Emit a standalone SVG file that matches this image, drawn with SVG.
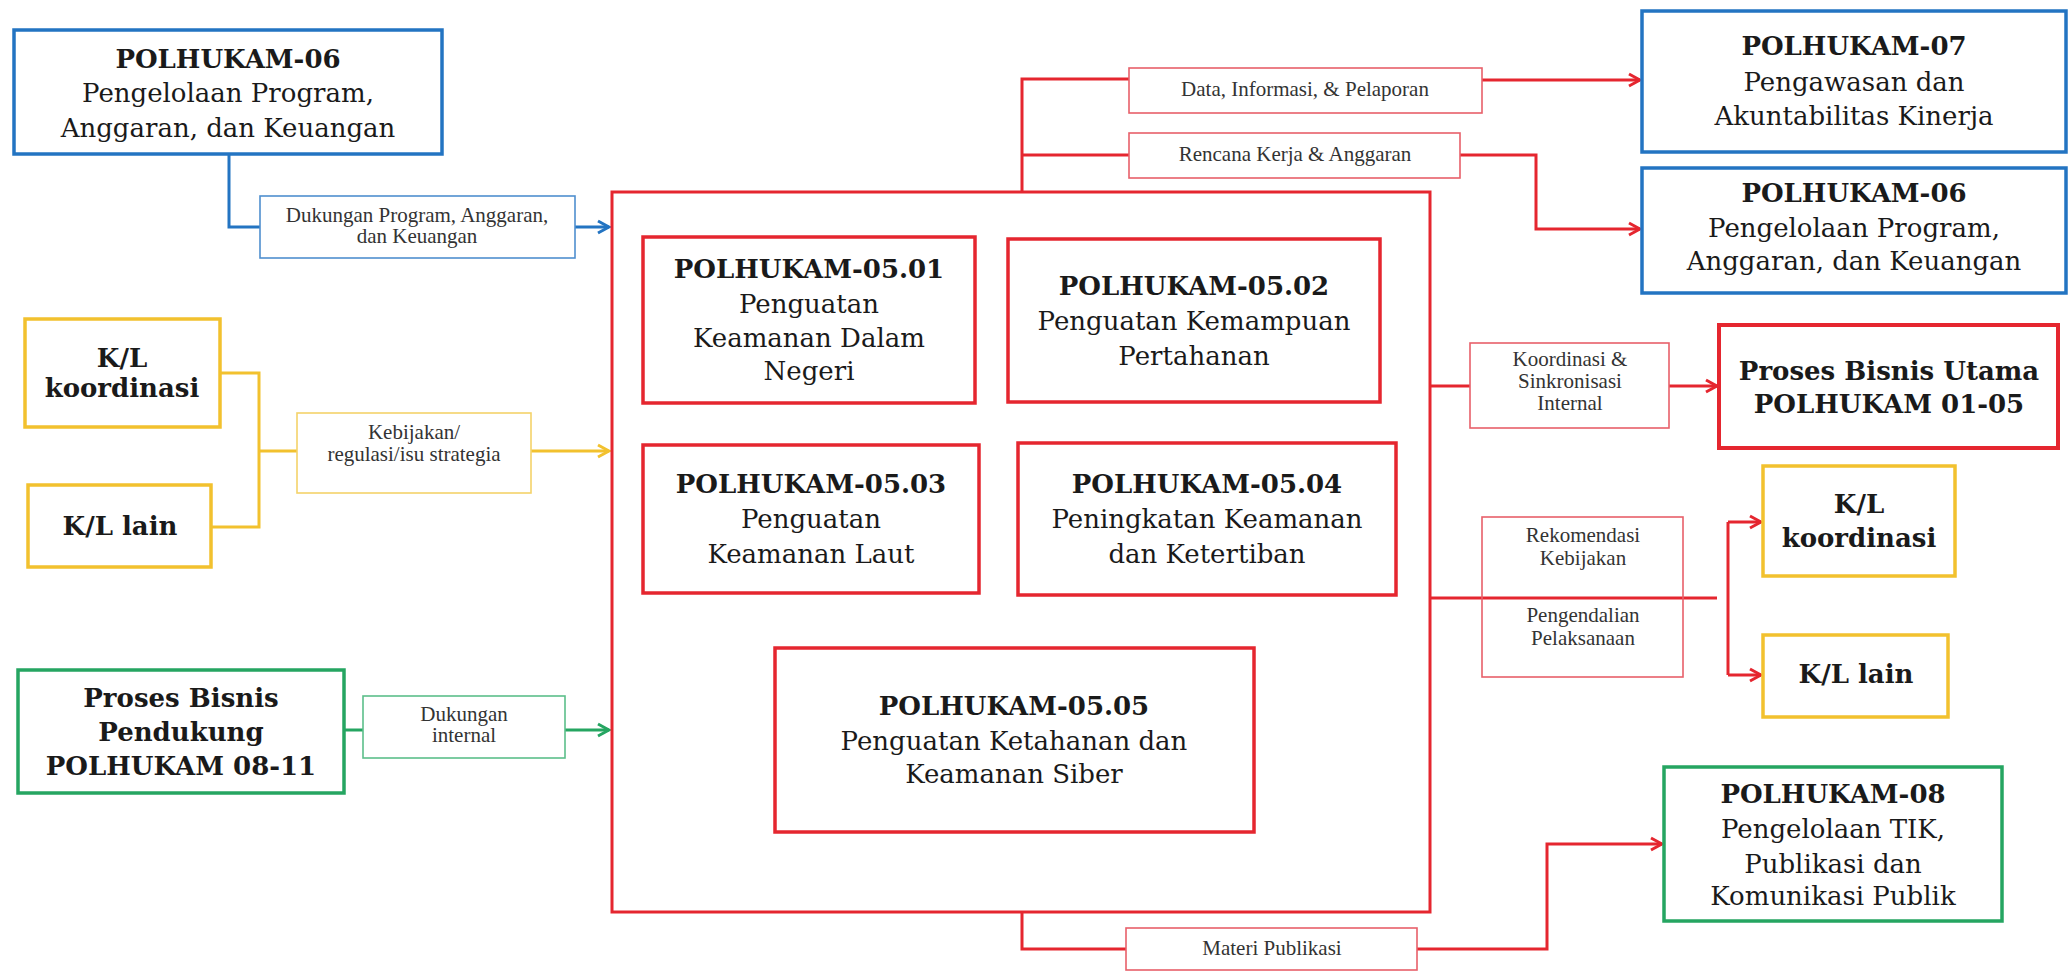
<svg xmlns="http://www.w3.org/2000/svg" width="2071" height="972" viewBox="0 0 2071 972">
<style>
.bg{fill:#ffffff}
.n{fill:none;stroke-width:3.5}
.blue{stroke:#2374c2}
.red{stroke:#e5262f}
.yel{stroke:#f2c12e}
.grn{stroke:#25a561}
.lb{fill:none;stroke-width:1.6}
.lblue{stroke:#4f8fcf}
.lred{stroke:#e8606a}
.lyel{stroke:#f4d36a}
.lgrn{stroke:#5cbf8a}
.t{font-family:"DejaVu Serif",serif;font-size:26px;fill:#1a1a1a;text-anchor:middle}
.b{font-weight:bold}
.l{font-family:"Liberation Serif",serif;font-size:21px;fill:#333;text-anchor:middle}
.c{fill:none;stroke-width:3}
</style>
<defs>
<marker id="ar" markerUnits="userSpaceOnUse" markerWidth="16" markerHeight="16" refX="13" refY="8" orient="auto"><path d="M2,2 L13,8 L2,14" fill="none" stroke="#e5262f" stroke-width="3"/></marker>
<marker id="ab" markerUnits="userSpaceOnUse" markerWidth="16" markerHeight="16" refX="13" refY="8" orient="auto"><path d="M2,2 L13,8 L2,14" fill="none" stroke="#2374c2" stroke-width="3"/></marker>
<marker id="ay" markerUnits="userSpaceOnUse" markerWidth="16" markerHeight="16" refX="13" refY="8" orient="auto"><path d="M2,2 L13,8 L2,14" fill="none" stroke="#f2c12e" stroke-width="3"/></marker>
<marker id="ag" markerUnits="userSpaceOnUse" markerWidth="16" markerHeight="16" refX="13" refY="8" orient="auto"><path d="M2,2 L13,8 L2,14" fill="none" stroke="#25a561" stroke-width="3"/></marker>
</defs>
<rect class="bg" x="0" y="0" width="2071" height="972"/>

<g id="connectors">
<polyline class="c blue" points="229,155 229,227 260,227"/>
<line class="c blue" x1="575" y1="227" x2="609" y2="227" marker-end="url(#ab)"/>
<polyline class="c yel" points="220,373 259,373 259,527 211,527"/>
<line class="c yel" x1="259" y1="451" x2="297" y2="451"/>
<line class="c yel" x1="531" y1="451" x2="609" y2="451" stroke-width="4" marker-end="url(#ay)"/>
<line class="c grn" x1="344" y1="730" x2="363" y2="730"/>
<line class="c grn" x1="565" y1="730" x2="609" y2="730" marker-end="url(#ag)"/>
<polyline class="c red" points="1022,192 1022,79 1129,79"/>
<line class="c red" x1="1022" y1="155" x2="1129" y2="155"/>
<line class="c red" x1="1482" y1="80" x2="1640" y2="80" marker-end="url(#ar)"/>
<polyline class="c red" points="1460,155 1536,155 1536,229 1640,229" marker-end="url(#ar)"/>
<line class="c red" x1="1431" y1="386" x2="1470" y2="386"/>
<line class="c red" x1="1669" y1="386" x2="1717" y2="386" marker-end="url(#ar)"/>
<line class="c red" x1="1431" y1="598" x2="1717" y2="598"/>
<line class="c red" x1="1728" y1="522" x2="1728" y2="675"/>
<line class="c red" x1="1728" y1="522" x2="1761" y2="522" marker-end="url(#ar)"/>
<line class="c red" x1="1728" y1="675" x2="1761" y2="675" marker-end="url(#ar)"/>
<polyline class="c red" points="1022,912 1022,949 1126,949"/>
<polyline class="c red" points="1417,949 1547,949 1547,844 1662,844" marker-end="url(#ar)"/>
</g>

<g id="labels">
<g id="lbl-dukungan-program">
<rect class="lb lblue" x="260" y="196" width="315" height="62"/>
<text class="l" x="417" y="222">Dukungan Program, Anggaran,</text>
<text class="l" x="417" y="243">dan Keuangan</text>
</g>
<g id="lbl-kebijakan">
<rect class="lb lyel" x="297" y="413" width="234" height="80"/>
<text class="l" x="414" y="439">Kebijakan/</text>
<text class="l" x="414" y="461">regulasi/isu strategia</text>
</g>
<g id="lbl-dukungan-internal">
<rect class="lb lgrn" x="363" y="696" width="202" height="62"/>
<text class="l" x="464" y="721">Dukungan</text>
<text class="l" x="464" y="742">internal</text>
</g>
<g id="lbl-data">
<rect class="lb lred" x="1129" y="68" width="353" height="45"/>
<text class="l" x="1305" y="96">Data, Informasi, &amp; Pelaporan</text>
</g>
<g id="lbl-rencana">
<rect class="lb lred" x="1129" y="133" width="331" height="45"/>
<text class="l" x="1295" y="161">Rencana Kerja &amp; Anggaran</text>
</g>
<g id="lbl-koordinasi">
<rect class="lb lred" x="1470" y="343" width="199" height="85"/>
<text class="l" x="1570" y="366">Koordinasi &amp;</text>
<text class="l" x="1570" y="388">Sinkronisasi</text>
<text class="l" x="1570" y="410">Internal</text>
</g>
<g id="lbl-rekomendasi">
<rect class="lb lred" x="1482" y="517" width="201" height="160"/>
<text class="l" x="1583" y="542">Rekomendasi</text>
<text class="l" x="1583" y="565">Kebijakan</text>
<text class="l" x="1583" y="622">Pengendalian</text>
<text class="l" x="1583" y="645">Pelaksanaan</text>
</g>
<g id="lbl-materi">
<rect class="lb lred" x="1126" y="928" width="291" height="42"/>
<text class="l" x="1272" y="955">Materi Publikasi</text>
</g>
</g>

<g id="polhukam-06-left">
<rect class="n blue" x="14" y="30" width="428" height="124"/>
<text class="t b" x="228" y="68">POLHUKAM-06</text>
<text class="t" x="228" y="102">Pengelolaan Program,</text>
<text class="t" x="228" y="137">Anggaran, dan Keuangan</text>
</g>
<g id="kl-koordinasi-left">
<rect class="n yel" x="25" y="319" width="195" height="108"/>
<text class="t b" x="122" y="367">K/L</text>
<text class="t b" x="122" y="397">koordinasi</text>
</g>
<g id="kl-lain-left">
<rect class="n yel" x="28" y="485" width="183" height="82"/>
<text class="t b" x="120" y="535">K/L lain</text>
</g>
<g id="proses-pendukung">
<rect class="n grn" x="18" y="670" width="326" height="123"/>
<text class="t b" x="181" y="707">Proses Bisnis</text>
<text class="t b" x="181" y="741">Pendukung</text>
<text class="t b" x="181" y="775">POLHUKAM 08-11</text>
</g>

<g id="polhukam-05">
<rect fill="none" stroke="#e5262f" stroke-width="3" x="612" y="192" width="818" height="720"/>
</g>
<g id="polhukam-05-01">
<rect class="n red" x="643" y="237" width="332" height="166"/>
<text class="t b" x="809" y="278">POLHUKAM-05.01</text>
<text class="t" x="809" y="313">Penguatan</text>
<text class="t" x="809" y="347">Keamanan Dalam</text>
<text class="t" x="809" y="380">Negeri</text>
</g>
<g id="polhukam-05-02">
<rect class="n red" x="1008" y="239" width="372" height="163"/>
<text class="t b" x="1194" y="295">POLHUKAM-05.02</text>
<text class="t" x="1194" y="330">Penguatan Kemampuan</text>
<text class="t" x="1194" y="365">Pertahanan</text>
</g>
<g id="polhukam-05-03">
<rect class="n red" x="643" y="445" width="336" height="148"/>
<text class="t b" x="811" y="493">POLHUKAM-05.03</text>
<text class="t" x="811" y="528">Penguatan</text>
<text class="t" x="811" y="563">Keamanan Laut</text>
</g>
<g id="polhukam-05-04">
<rect class="n red" x="1018" y="443" width="378" height="152"/>
<text class="t b" x="1207" y="493">POLHUKAM-05.04</text>
<text class="t" x="1207" y="528">Peningkatan Keamanan</text>
<text class="t" x="1207" y="563">dan Ketertiban</text>
</g>
<g id="polhukam-05-05">
<rect class="n red" x="775" y="648" width="479" height="184"/>
<text class="t b" x="1014" y="715">POLHUKAM-05.05</text>
<text class="t" x="1014" y="750">Penguatan Ketahanan dan</text>
<text class="t" x="1014" y="783">Keamanan Siber</text>
</g>

<g id="polhukam-07">
<rect class="n blue" x="1642" y="11" width="424" height="141"/>
<text class="t b" x="1854" y="55">POLHUKAM-07</text>
<text class="t" x="1854" y="91">Pengawasan dan</text>
<text class="t" x="1854" y="125">Akuntabilitas Kinerja</text>
</g>
<g id="polhukam-06-right">
<rect class="n blue" x="1642" y="168" width="424" height="125"/>
<text class="t b" x="1854" y="202">POLHUKAM-06</text>
<text class="t" x="1854" y="237">Pengelolaan Program,</text>
<text class="t" x="1854" y="270">Anggaran, dan Keuangan</text>
</g>
<g id="proses-utama">
<rect fill="none" stroke="#e5262f" stroke-width="4" x="1719" y="325" width="339" height="123"/>
<text class="t b" x="1889" y="380">Proses Bisnis Utama</text>
<text class="t b" x="1889" y="413">POLHUKAM 01-05</text>
</g>
<g id="kl-koordinasi-right">
<rect class="n yel" x="1763" y="466" width="192" height="110"/>
<text class="t b" x="1859" y="513">K/L</text>
<text class="t b" x="1859" y="547">koordinasi</text>
</g>
<g id="kl-lain-right">
<rect class="n yel" x="1763" y="635" width="185" height="82"/>
<text class="t b" x="1856" y="683">K/L lain</text>
</g>
<g id="polhukam-08">
<rect class="n grn" x="1664" y="767" width="338" height="154"/>
<text class="t b" x="1833" y="803">POLHUKAM-08</text>
<text class="t" x="1833" y="838">Pengelolaan TIK,</text>
<text class="t" x="1833" y="873">Publikasi dan</text>
<text class="t" x="1833" y="905">Komunikasi Publik</text>
</g>
</svg>
